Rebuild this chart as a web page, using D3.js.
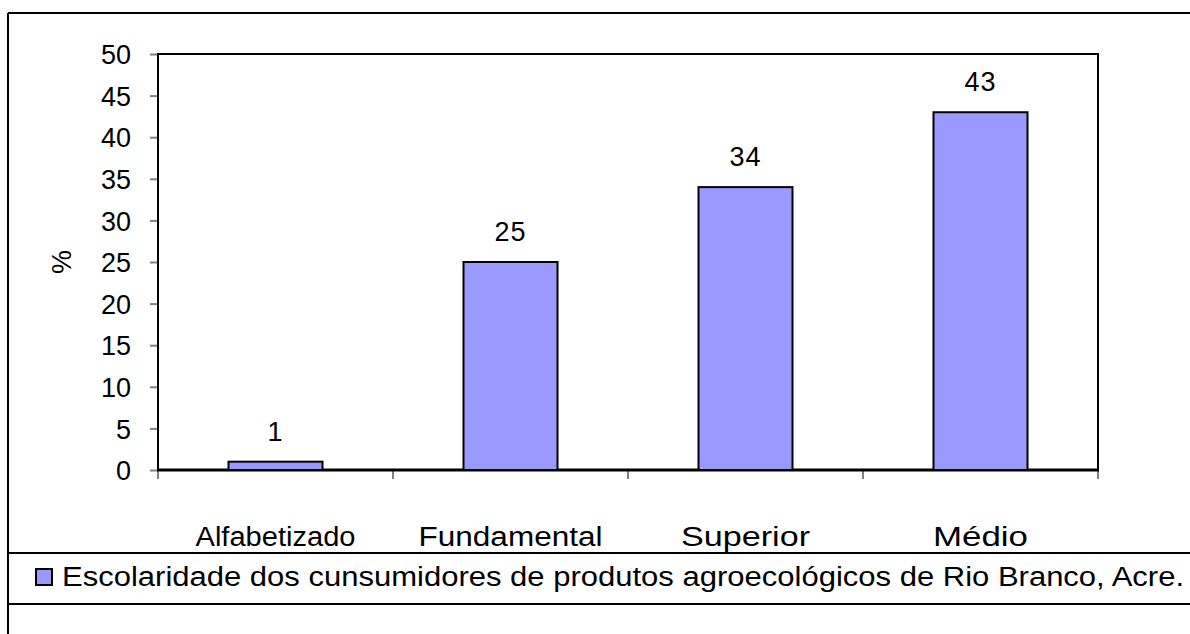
<!DOCTYPE html>
<html>
<head>
<meta charset="utf-8">
<script src="https://cdn.jsdelivr.net/npm/d3@7"></script>
<style>
  body { margin: 0; background: #fff; }
  text { font-family: "Liberation Sans", Arial, sans-serif; fill: #000; }
</style>
</head>
<body>
<div id="chart"></div>
<script>
// chart values
var categories = ["Alfabetizado", "Fundamental", "Superior", "Médio"];
var values = [1, 25, 34, 43];
var yTicks = [0, 5, 10, 15, 20, 25, 30, 35, 40, 45, 50];
var yLabel = "%";
var legendLabel = "Escolaridade dos cunsumidores de produtos agroecológicos de Rio Branco, Acre.";
// label widths (stretched text)
var catWidths = [160, 184, 129, 95];

(function() {
	var W = 1190, H = 634;
	var plot = { left: 158, right: 1098, top: 54, bottom: 470 };
	var fs = 27;

	var svg = d3.select("#chart")
		.append("svg")
		.attr("width", W)
		.attr("height", H);

	// outer frame + legend dividers
	var frame = svg.append("g").attr("stroke", "#000").attr("stroke-width", 2);
	frame.append("line").attr("x1", 8).attr("y1", 13).attr("x2", W).attr("y2", 13);
	frame.append("line").attr("x1", 8).attr("y1", 13).attr("x2", 8).attr("y2", H);
	frame.append("line").attr("x1", 8).attr("y1", 553).attr("x2", W).attr("y2", 553);
	frame.append("line").attr("x1", 8).attr("y1", 604).attr("x2", W).attr("y2", 604);

	var x = d3.scaleBand()
		.domain(categories)
		.range([plot.left, plot.right])
		.paddingInner(0.6)
		.paddingOuter(0.3);

	var xCat = d3.scaleBand()
		.domain(categories)
		.range([plot.left, plot.right])
		.padding(0);

	var y = d3.scaleLinear()
		.domain([0, 50])
		.range([plot.bottom, plot.top]);

	// y axis
	var yAxis = svg.append("g")
		.attr("transform", "translate(" + plot.left + ",0)")
		.call(d3.axisLeft(y).tickValues(yTicks).tickSize(8).tickPadding(19));
	yAxis.select(".domain").remove();
	yAxis.selectAll(".tick line").attr("stroke", "#808080").attr("stroke-width", 2);
	yAxis.selectAll(".tick text")
		.attr("font-size", fs)
		.attr("dy", "0.36em");

	// x ticks at category boundaries
	var bounds = categories.map(function(c) { return xCat(c); }).concat([plot.right]);
	svg.append("g").selectAll("line")
		.data(bounds)
		.enter()
		.append("line")
		.attr("x1", function(d) { return d; })
		.attr("x2", function(d) { return d; })
		.attr("y1", plot.bottom)
		.attr("y2", plot.bottom + 9)
		.attr("stroke", "#808080")
		.attr("stroke-width", 2);

	// plot frame
	svg.append("rect")
		.attr("x", plot.left)
		.attr("y", plot.top)
		.attr("width", plot.right - plot.left)
		.attr("height", plot.bottom - plot.top)
		.attr("fill", "none")
		.attr("stroke", "#000")
		.attr("stroke-width", 2);
	svg.append("line")
		.attr("x1", plot.left - 1).attr("x2", plot.right + 1)
		.attr("y1", plot.bottom).attr("y2", plot.bottom)
		.attr("stroke", "#000").attr("stroke-width", 3);

	// bars
	svg.selectAll(".bar")
		.data(values)
		.enter()
		.append("rect")
		.attr("class", "bar")
		.attr("x", function(d, i) { return x(categories[i]); })
		.attr("y", function(d) { return y(d); })
		.attr("width", x.bandwidth())
		.attr("height", function(d) { return y(0) - y(d); })
		.attr("fill", "#9999FF")
		.attr("stroke", "#000")
		.attr("stroke-width", 2);

	// value labels
	svg.selectAll(".val")
		.data(values)
		.enter()
		.append("text")
		.attr("class", "val")
		.attr("x", function(d, i) { return x(categories[i]) + x.bandwidth() / 2; })
		.attr("y", function(d) { return y(d) - 21; })
		.attr("text-anchor", "middle")
		.attr("font-size", fs)
		.attr("letter-spacing", 1)
		.text(function(d) { return d; });

	// category labels
	svg.selectAll(".cat")
		.data(categories)
		.enter()
		.append("text")
		.attr("class", "cat")
		.attr("x", function(d, i) { return xCat(d) + xCat.bandwidth() / 2 - catWidths[i] / 2; })
		.attr("y", 546)
		.attr("font-size", fs)
		.attr("textLength", function(d, i) { return catWidths[i]; })
		.attr("lengthAdjust", "spacingAndGlyphs")
		.text(function(d) { return d; });

	// y label
	svg.append("text")
		.attr("transform", "translate(71," + y(25) + ") rotate(-90)")
		.attr("text-anchor", "middle")
		.attr("font-size", fs)
		.text(yLabel);

	// legend
	svg.append("rect")
		.attr("x", 36).attr("y", 569)
		.attr("width", 16).attr("height", 16)
		.attr("fill", "#9999FF")
		.attr("stroke", "#000")
		.attr("stroke-width", 2);
	svg.append("text")
		.attr("x", 62)
		.attr("y", 586)
		.attr("font-size", fs)
		.attr("textLength", 1122)
		.attr("lengthAdjust", "spacingAndGlyphs")
		.text(legendLabel);
})();
</script>
</body>
</html>
